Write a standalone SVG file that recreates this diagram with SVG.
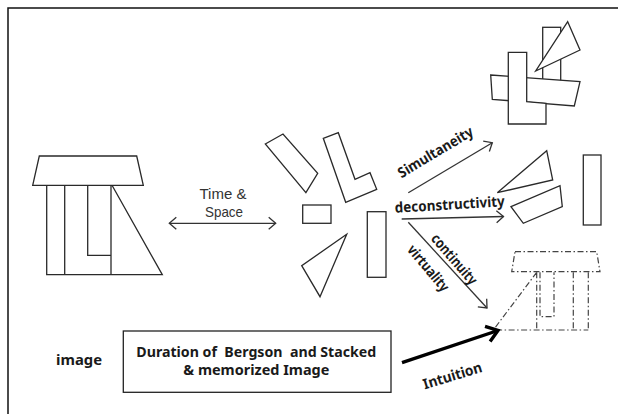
<svg xmlns="http://www.w3.org/2000/svg" width="618" height="414" viewBox="0 0 618 414">
<style>
.s{fill:#fff;stroke:#2a2a2a;stroke-width:1.3;stroke-linejoin:miter}
.l{fill:none;stroke:#2a2a2a;stroke-width:1.3}
.d{fill:none;stroke:#444;stroke-width:1.2;stroke-dasharray:6 2.5 1.5 2.5}
.t{font-family:"Noto Sans","Open Sans","Liberation Sans",sans-serif;fill:#1a1a1a;font-weight:bold}
.tn{font-family:"Liberation Sans","Noto Sans",sans-serif;fill:#333;font-weight:normal}
.c{fill:none;stroke:#333;stroke-width:1.3}
</style>
<defs>
<marker id="ah" markerUnits="userSpaceOnUse" markerWidth="20" markerHeight="20" viewBox="-10 -10 20 20" refX="0" refY="0" orient="auto-start-reverse">
<path d="M-7,-6 L0,0 L-7,6" fill="none" stroke="#333" stroke-width="1.3"/>
</marker>
<marker id="ahb" markerUnits="userSpaceOnUse" markerWidth="30" markerHeight="30" viewBox="-15 -15 30 30" refX="0" refY="0" orient="auto">
<path d="M-11,-8 L0,0 L-11,8" fill="none" stroke="#000" stroke-width="3.4" stroke-linejoin="miter"/>
</marker>
</defs>
<rect width="618" height="414" fill="#fff"/>
<g id="frame">
<path d="M8,414 L8,8 L618,8" fill="none" stroke="#111" stroke-width="1.5"/>
</g>
<g id="temple-left">
<path class="s" d="M39.3,156 L136.7,156 L143.3,185.3 L32.7,185.3 Z"/>
<path class="l" d="M46.7,185.3 V274.7 H162.3 L112,185.3 M64.7,185.3 V274.7 M111,185.3 V274.7 M87.7,185.3 V255.3 H111"/>
</g>
<g id="label-time-space">
<text class="tn" font-size="15" x="223" y="199" text-anchor="middle" textLength="47" lengthAdjust="spacingAndGlyphs">Time &amp;</text>
<text class="tn" font-size="15" x="224" y="216.5" text-anchor="middle" textLength="38" lengthAdjust="spacingAndGlyphs">Space</text>
</g>
<g id="fragment-bar">
<path class="s" d="M265.3,144 L283,134 L317.7,173.3 L305.9,192.7 Z"/>
</g>
<g id="fragment-l">
<path class="s" d="M323.3,138.3 L338.3,132.7 L355,179.3 L370,172.7 L376.7,189.3 L345.7,202.3 Z"/>
</g>
<g id="fragment-small-rect">
<rect class="s" x="302.7" y="205" width="28.3" height="18.3"/>
</g>
<g id="fragment-tall-rect">
<rect class="s" x="367.3" y="211.7" width="18.7" height="65.6"/>
</g>
<g id="fragment-triangle">
<path class="s" d="M346.7,234.3 L301.7,265.7 L320,296.7 Z"/>
</g>
<g id="cluster-top">
<rect class="s" x="542.7" y="27.3" width="18" height="60"/>
<path class="s" d="M490.7,75 L580,81.7 L574.3,106 L492.3,99.3 Z"/>
<path class="s" d="M508.3,52.3 L526.7,52.3 L526.7,101.7 L546,103.3 L546,124 L508.3,124 Z"/>
<path class="s" d="M567.7,21.7 L580,50 L535.7,71 Z"/>
</g>
<g id="cluster-right">
<path class="s" d="M546.7,150.7 L552.7,180 L497.3,192.7 Z"/>
<path class="s" d="M511,206.7 L560,185.7 L562.3,206.7 L523.3,223.3 Z"/>
<rect class="s" x="583.3" y="155" width="17.7" height="70"/>
</g>
<g id="temple-dashed">
<path class="d" d="M515,251.7 L596.7,251.7 L600,271.7 L511.7,271.7 Z"/>
<path class="d" d="M536.7,272.3 L493.3,330 L588.3,330 M536.7,272.3 V330 M540,272.3 V316.7 H554 V272.3 M573.3,272.3 V330 M588.3,272.3 V330"/>
</g>
<g id="label-image">
<text class="t" font-size="15" x="56" y="365" textLength="46" lengthAdjust="spacingAndGlyphs">image</text>
</g>
<g id="box-duration">
<rect x="123.3" y="331" width="267.7" height="61.3" fill="#fff" stroke="#222" stroke-width="1.3"/>
<text class="t" font-size="15" x="256.3" y="356.7" text-anchor="middle" xml:space="preserve" textLength="240" lengthAdjust="spacingAndGlyphs">Duration of  Bergson  and Stacked</text>
<text class="t" font-size="15" x="256.3" y="375" text-anchor="middle" textLength="146" lengthAdjust="spacingAndGlyphs">&amp; memorized Image</text>
</g>
<g id="connectors">
<line class="c" x1="169.3" y1="223.3" x2="275.7" y2="223.3" marker-start="url(#ah)" marker-end="url(#ah)"/>
<line class="c" x1="408.3" y1="192.7" x2="492.3" y2="142.7" marker-end="url(#ah)"/>
<line class="c" x1="401.7" y1="219" x2="503.5" y2="216.5" marker-end="url(#ah)"/>
<line class="c" x1="408.3" y1="222.3" x2="487" y2="308" marker-end="url(#ah)"/>
<line x1="402" y1="362.7" x2="498" y2="330.5" stroke="#000" stroke-width="3.4" marker-end="url(#ahb)"/>
<text class="t" font-size="14.5" transform="translate(438,156.5) rotate(-31)" text-anchor="middle" textLength="85" lengthAdjust="spacingAndGlyphs">Simultaneity</text>
<text class="t" font-size="14.5" transform="translate(450,209.5) rotate(-3.5)" text-anchor="middle" textLength="110" lengthAdjust="spacingAndGlyphs">deconstructivity</text>
<text class="t" font-size="14.5" transform="translate(450.5,262.5) rotate(49)" text-anchor="middle" textLength="62" lengthAdjust="spacingAndGlyphs">continuity</text>
<text class="t" font-size="14.5" transform="translate(424.5,271.5) rotate(50)" text-anchor="middle" textLength="56" lengthAdjust="spacingAndGlyphs">virtuality</text>
<text class="t" font-size="14.5" transform="translate(454,380.5) rotate(-17)" text-anchor="middle" textLength="61" lengthAdjust="spacingAndGlyphs">Intuition</text>
</g>
</svg>
